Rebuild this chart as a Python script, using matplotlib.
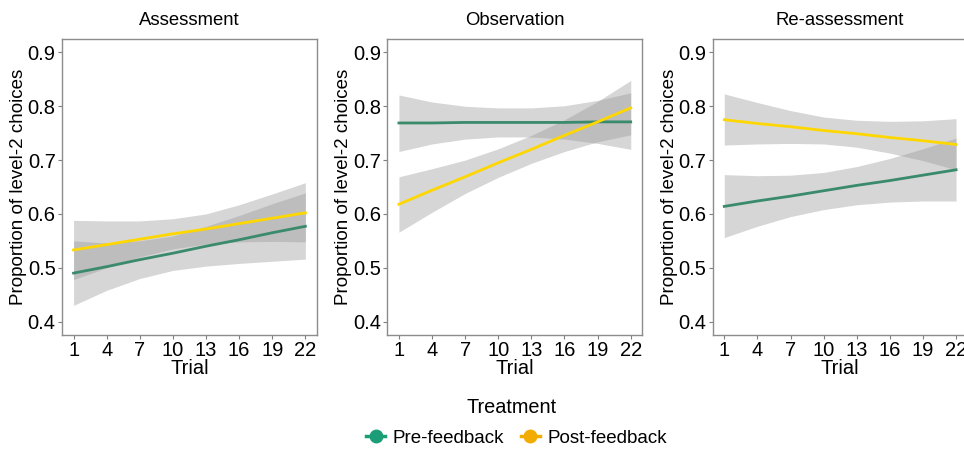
import numpy as np
import matplotlib
matplotlib.use("Agg")
import matplotlib.pyplot as plt
from matplotlib.lines import Line2D

plt.rcParams['font.family'] = ['Liberation Sans', 'DejaVu Sans']

# values, at each x tick
trials = [1, 4, 7, 10, 13, 16, 19, 22]
panels = ["Assessment", "Observation", "Re-assessment"]

# Assessment
a_pre = [0.490, 0.502, 0.515, 0.527, 0.540, 0.552, 0.565, 0.577]
a_pre_lo = [0.430, 0.458, 0.480, 0.495, 0.503, 0.508, 0.512, 0.516]
a_pre_hi = [0.550, 0.546, 0.550, 0.559, 0.577, 0.597, 0.619, 0.639]
a_post = [0.533, 0.543, 0.553, 0.563, 0.572, 0.582, 0.592, 0.602]
a_post_lo = [0.478, 0.500, 0.520, 0.535, 0.544, 0.548, 0.549, 0.548]
a_post_hi = [0.588, 0.587, 0.587, 0.591, 0.600, 0.617, 0.637, 0.658]

# Observation
o_pre = [0.769, 0.769, 0.770, 0.770, 0.770, 0.770, 0.771, 0.771]
o_pre_lo = [0.716, 0.730, 0.739, 0.743, 0.743, 0.739, 0.731, 0.720]
o_pre_hi = [0.821, 0.808, 0.800, 0.797, 0.797, 0.801, 0.811, 0.825]
o_post = [0.618, 0.644, 0.669, 0.695, 0.720, 0.746, 0.771, 0.797]
o_post_lo = [0.566, 0.603, 0.638, 0.668, 0.694, 0.716, 0.734, 0.747]
o_post_hi = [0.669, 0.684, 0.700, 0.721, 0.746, 0.775, 0.809, 0.848]

# Re-assessment
r_pre = [0.614, 0.624, 0.633, 0.643, 0.653, 0.662, 0.672, 0.682]
r_pre_lo = [0.556, 0.577, 0.595, 0.608, 0.617, 0.622, 0.624, 0.624]
r_pre_hi = [0.673, 0.671, 0.672, 0.677, 0.688, 0.703, 0.721, 0.741]
r_post = [0.775, 0.768, 0.762, 0.755, 0.749, 0.742, 0.736, 0.729]
r_post_lo = [0.728, 0.730, 0.731, 0.730, 0.724, 0.713, 0.699, 0.682]
r_post_hi = [0.823, 0.807, 0.792, 0.780, 0.774, 0.772, 0.773, 0.777]

data = [
    (a_pre, a_pre_lo, a_pre_hi, a_post, a_post_lo, a_post_hi),
    (o_pre, o_pre_lo, o_pre_hi, o_post, o_post_lo, o_post_hi),
    (r_pre, r_pre_lo, r_pre_hi, r_post, r_post_lo, r_post_hi),
]

line_pre = "#3a8a6c"
line_post = "#ffd700"
key_pre = "#1b9e77"
key_post = "#f2ac00"
band = "#999999"

fig = plt.figure(figsize=(9.64, 4.49), dpi=100)
lefts = [0.0643, 0.4018, 0.7393]
for i, (title, d) in enumerate(zip(panels, data)):
    ax = fig.add_axes([lefts[i], 0.2539, 0.2645, 0.6592])
    pre, pre_lo, pre_hi, post, post_lo, post_hi = d
    ax.fill_between(trials, pre_lo, pre_hi, color=band, alpha=0.4, lw=0)
    ax.fill_between(trials, post_lo, post_hi, color=band, alpha=0.4, lw=0)
    ax.plot(trials, pre, color=line_pre, lw=2)
    ax.plot(trials, post, color=line_post, lw=2)
    ax.set_xlim(-0.05, 23.05)
    ax.set_ylim(0.375, 0.925)
    ax.set_xticks(trials)
    ax.set_yticks([0.4, 0.5, 0.6, 0.7, 0.8, 0.9])
    ax.set_yticklabels(["0.4", "0.5", "0.6", "0.7", "0.8", "0.9"])
    ax.tick_params(labelsize=14.5, colors="#7f7f7f", labelcolor="black",
                   length=3, width=0.8, pad=1.5)
    for sp in ax.spines.values():
        sp.set_color("#8c8c8c")
        sp.set_linewidth(1.0)
    ax.set_xlabel("Trial", fontsize=14.5, labelpad=-1)
    ax.set_ylabel("Proportion of level-2 choices", fontsize=13.5, labelpad=0.5)
    ax.set_title(title, fontsize=13.3, pad=10)

handles = [
    Line2D([], [], color=key_pre, marker="o", markersize=9, lw=2.5),
    Line2D([], [], color=key_post, marker="o", markersize=9, lw=2.5),
]
fig.text(0.531, 0.093, "Treatment", fontsize=14.3, ha="center", va="center")
fig.legend(handles, ["Pre-feedback", "Post-feedback"], loc="center",
           bbox_to_anchor=(0.536, 0.024), ncol=2, frameon=False, fontsize=13.5,
           handlelength=1.0, handletextpad=0.4, columnspacing=0.9)

fig.savefig("out.png", dpi=100)
